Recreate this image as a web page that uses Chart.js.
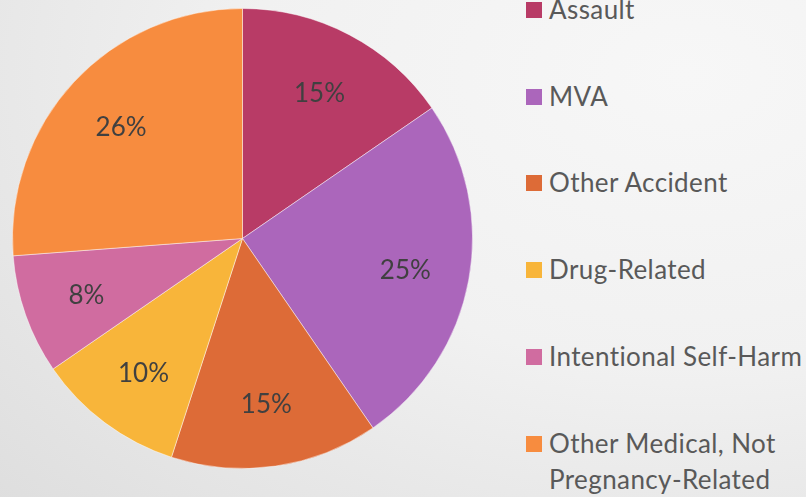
<!DOCTYPE html>
<html>
<head>
<meta charset="utf-8">
<script src="https://cdn.jsdelivr.net/npm/chart.js@4/dist/chart.umd.min.js"></script>
<style>
  html, body { margin: 0; padding: 0; }
  body {
    width: 806px; height: 497px; overflow: hidden; position: relative;
    background: radial-gradient(ellipse 120% 130% at 85% 15%, #f7f7f7 0%, #f1f1f1 45%, #dddddd 100%);
    font-family: Lato, "Open Sans", sans-serif;
  }
  #wrap { position: absolute; left: 0; top: 0; width: 485px; height: 497px; }
  #legend { position: absolute; left: 526px; top: 0; width: 280px; height: 497px; }
  .item { position: absolute; left: 0; display: flex; align-items: flex-start; }
  .box { width: 16px; height: 16px; margin-top: 11px; margin-right: 7px; flex: none; }
  .txt { color: #595959; font-size: 26px; letter-spacing: 0.4px; line-height: 36px; width: 275px; }
</style>
</head>
<body>
<div id="wrap"><canvas id="chart-pie"></canvas></div>
<div id="legend"></div>
<script>
var categorias = ['Assault', 'MVA', 'Other Accident', 'Drug-Related', 'Intentional Self-Harm', 'Other Medical, Not Pregnancy-Related'];
var valores = [15.4, 25.0, 14.6, 10.4, 8.4, 26.2];
var cores = ['#b83b66', '#ab66bb', '#dd6b37', '#f8b53a', '#d06ca0', '#f78c3f'];

// rotulos de porcentagem dentro das fatias
var rotulosPct = {
    id: 'rotulosPct',
    afterDatasetsDraw: function (chart) {
        var ctx = chart.ctx, meta = chart.getDatasetMeta(0);
        var total = valores.reduce(function (a, b) { return a + b; }, 0);
        ctx.save();
        ctx.font = '26px Lato, "Open Sans", sans-serif';
        ctx.fillStyle = '#404040';
        ctx.textAlign = 'center';
        ctx.textBaseline = 'middle';
        meta.data.forEach(function (arc, i) {
            var p = arc.getProps(['x', 'y', 'startAngle', 'endAngle', 'outerRadius'], true);
            var meio = (p.startAngle + p.endAngle) / 2, r = p.outerRadius * 0.72;
            ctx.fillText(Math.round(valores[i] / total * 100) + '%', p.x + Math.cos(meio) * r, p.y + Math.sin(meio) * r + 2);
        });
        ctx.restore();
    }
};

var config = {
    type: 'pie',
    data: {
        labels: categorias,
        datasets: [{
            data: valores,
            backgroundColor: cores,
            borderColor: 'rgba(255,255,255,0.45)',
            borderWidth: 1
        }]
    },
    options: {
        responsive: true,
        maintainAspectRatio: false,
        animation: false,
        layout: { padding: { left: 12, top: 8, right: 12, bottom: 28 } },
        plugins: {
            legend: { display: false },
            tooltip: { enabled: false }
        }
    },
    plugins: [rotulosPct]
};

new Chart(document.getElementById('chart-pie'), config);

// legenda em html
var $legend = document.getElementById('legend');
var larguraTexto = ['', '', '', '', '', '255px'];
categorias.forEach(function (nome, i) {
    var item = document.createElement('div');
    item.className = 'item';
    item.style.top = (i * 86.7 - 9) + 'px';
    item.innerHTML = '<div class="box" style="background:' + cores[i] + '"></div><div class="txt"' +
        (larguraTexto[i] ? ' style="width:' + larguraTexto[i] + '"' : '') + '>' + nome + '</div>';
    $legend.appendChild(item);
});
</script>
</body>
</html>
